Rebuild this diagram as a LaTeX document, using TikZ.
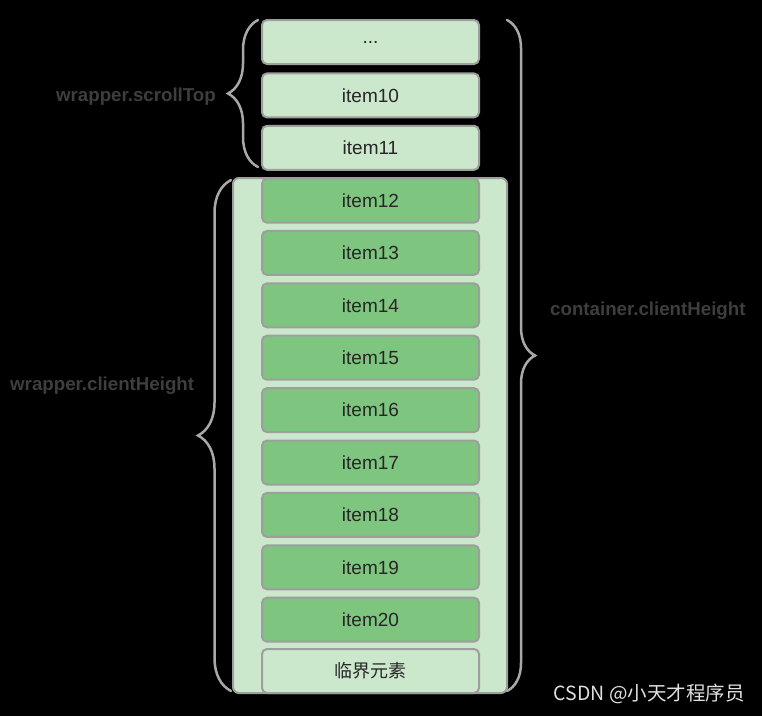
\documentclass[tikz,border=0pt]{standalone}
\usepackage{fontspec}
\setmainfont{Liberation Sans}
\newfontfamily\cjk{Noto Sans CJK SC}
\usetikzlibrary{decorations.pathreplacing}
\definecolor{lightg}{HTML}{CCE8CC}
\definecolor{darkg}{HTML}{7EC57F}
\definecolor{bord}{HTML}{9E9E9E}
\definecolor{bracec}{HTML}{A8A8A8}
\definecolor{lbl}{HTML}{3E3E3E}
\definecolor{itemtxt}{HTML}{262626}
\begin{document}
\begin{tikzpicture}[x=1pt,y=-1pt,
  itembox/.style={draw=bord, line width=2pt, rounded corners=5pt, minimum width=217pt, minimum height=44pt, inner sep=0pt, font=\fontsize{19}{22}\selectfont, text=itemtxt},
  lightbox/.style={itembox, fill=lightg},
  darkbox/.style={itembox, fill=darkg},
  brc/.style={draw=bracec, line width=2.5pt, line cap=round, decorate},
  lab/.style={text=lbl, font=\fontsize{18.7}{22}\selectfont\bfseries, inner sep=0pt}]
\fill[black] (0,0) rectangle (762,716);
\useasboundingbox (0,0) rectangle (762,716);
% wrapper
\node[draw=bord, fill=lightg, line width=2pt, rounded corners=6pt, minimum width=274pt, minimum height=515pt, inner sep=0pt] (wrapper) at (370,435.5) {};
% items
\node[lightbox] (d) at (370.5,42) {...};
\node[lightbox] (i10) at (370.5,95.4) {item10};
\node[lightbox] (i11) at (370.5,147.8) {item11};
\node[darkbox] (i12) at (370.5,200.7) {item12};
\node[darkbox] (i13) at (370.5,252.9) {item13};
\node[darkbox] (i14) at (370.5,305.3) {item14};
\node[darkbox] (i15) at (370.5,357.7) {item15};
\node[darkbox] (i16) at (370.5,410.1) {item16};
\node[darkbox] (i17) at (370.5,462.5) {item17};
\node[darkbox] (i18) at (370.5,514.9) {item18};
\node[darkbox] (i19) at (370.5,567.3) {item19};
\node[darkbox] (i20) at (370.5,619.7) {item20};
\node[lightbox, font=\cjk\fontsize{18}{22}\selectfont] (crit) at (370.5,671) {临界元素};
% braces
\draw[brc, decoration={brace, amplitude=30pt}] (258,167) -- (258,20);
\draw[brc, decoration={brace, amplitude=33pt}] (231,691) -- (231,180);
\draw[brc, decoration={brace, amplitude=28pt}] (507,20) -- (507,691);
% labels
\node[lab, anchor=east] (lscroll) at (216,97) {wrapper.scrollTop};
\node[lab, anchor=west] (lwrap) at (10,386) {wrapper.clientHeight};
\node[lab, anchor=west] (lcont) at (550,311) {container.clientHeight};
% watermark
\node[anchor=east, inner sep=0pt, text=white!88!black, font=\cjk\fontsize{19.5}{22}\selectfont] (wm) at (745,694) {CSDN @小天才程序员};
\end{tikzpicture}
\end{document}
